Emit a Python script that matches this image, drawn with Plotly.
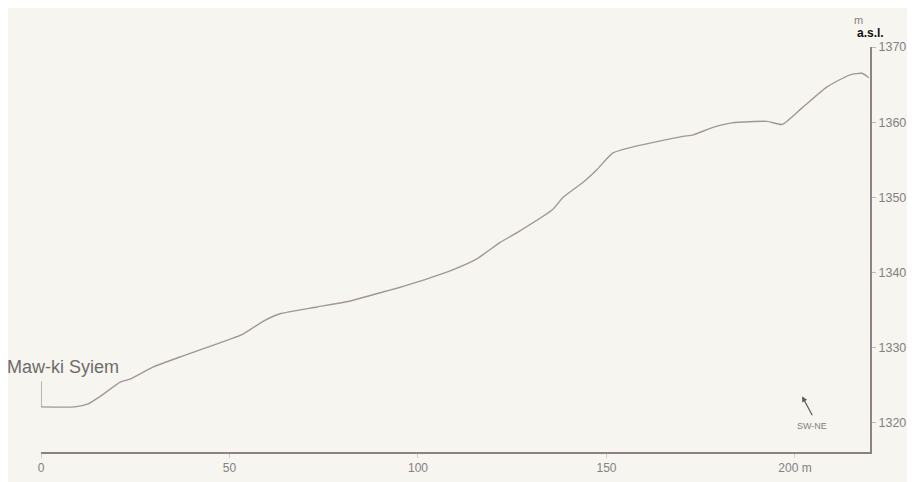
import plotly.graph_objects as go

# distance along profile (m) and elevation (m a.s.l.)
distance = [0, 9, 12.5, 16, 21, 23.6, 29.7, 37.7, 46.7, 53.6, 58.9, 63.4, 73.2, 82, 90.7, 94.4, 99.7,
            108.5, 115.6, 121.8, 126.3, 135.8, 138.5, 143.8, 147.5, 151.7, 157, 163.4, 170.3, 173,
            178.2, 183.3, 192.6, 196.6, 202.1, 208.5, 214.6, 217.8, 219.6]
elevation = [1322.1, 1322.1, 1322.5, 1323.6, 1325.4, 1325.8, 1327.4, 1328.9, 1330.5, 1331.8, 1333.5,
             1334.5, 1335.4, 1336.2, 1337.4, 1337.9, 1338.7, 1340.2, 1341.8, 1344.0, 1345.3, 1348.4,
             1350.0, 1352.0, 1353.7, 1355.9, 1356.7, 1357.4, 1358.1, 1358.3, 1359.3, 1359.9, 1360.1,
             1359.7, 1362.0, 1364.7, 1366.3, 1366.5, 1365.9]

x_ticks = [0, 50, 100, 150, 200]
x_ticktext = ["0", "50", "100", "150", "200 m"]
y_ticks = [1320, 1330, 1340, 1350, 1360, 1370]

start_label = "Maw-ki Syiem"
start_marker = [1322.1, 1325.5]

direction_label = "SW-NE"
arrow_head = [201.9, 1323.5]
arrow_tail = [204.8, 1320.8]
label_pos = [204.6, 1319.6]

bg = "#f6f5ef"
line_col = "#a39699"
axis_col = "#8e8185"
txt_col = "#858082"

fig = go.Figure()
fig.add_trace(go.Scatter(x=distance, y=elevation, mode="lines",
                         line=dict(color=line_col, width=1.4, shape="spline", smoothing=0.5),
                         hoverinfo="skip"))
fig.add_trace(go.Scatter(x=[0, 0], y=start_marker, mode="lines",
                         line=dict(color=line_col, width=1.4), hoverinfo="skip"))

# page body has an 8px margin, so the figure is sized to fill the rest of the window
fig.update_layout(
    width=907, height=474,
    margin=dict(l=33, r=45, t=39, b=30),
    paper_bgcolor=bg, plot_bgcolor=bg,
    showlegend=False,
    font=dict(family="Liberation Sans, Arial, sans-serif", color=txt_col, size=12),
    xaxis=dict(range=[0, 219.9], tickvals=x_ticks, ticktext=x_ticktext, automargin=False,
               showgrid=False, zeroline=False, showline=True, linecolor=axis_col, linewidth=2,
               ticks="outside", ticklen=4, tickcolor="#d3cdcd",
               tickfont=dict(size=12, color=txt_col)),
    yaxis=dict(range=[1316.1, 1370], tickvals=y_ticks, side="right", automargin=False,
               showgrid=False, zeroline=False, showline=True, linecolor=axis_col, linewidth=2,
               ticks="outside", ticklen=4, tickcolor="#bdb5b6",
               tickfont=dict(size=12.5, color=txt_col)),
)

fig.add_annotation(x=0, y=start_marker[1], xref="x", yref="y", text=start_label, showarrow=False,
                   xanchor="left", yanchor="bottom", xshift=-36, yshift=2,
                   font=dict(size=18, color="#716a6c"))
fig.add_annotation(xref="paper", yref="paper", x=1.0, y=1.0, text="m", showarrow=False,
                   xanchor="center", yanchor="bottom", xshift=-12, yshift=19,
                   font=dict(size=11, color=txt_col))
fig.add_annotation(xref="paper", yref="paper", x=1.0, y=1.0, text="<b>a.s.l.</b>", showarrow=False,
                   xanchor="center", yanchor="bottom", xshift=0, yshift=5,
                   font=dict(size=12, color="#111111"))
fig.add_annotation(x=label_pos[0], y=label_pos[1], xref="x", yref="y", text=direction_label,
                   showarrow=False, font=dict(size=9, color=txt_col))
fig.add_annotation(x=arrow_head[0], y=arrow_head[1], ax=arrow_tail[0], ay=arrow_tail[1],
                   xref="x", yref="y", axref="x", ayref="y",
                   text="", showarrow=True, arrowhead=2, arrowsize=0.9, arrowwidth=1.2,
                   arrowcolor="#5f585a")

fig.write_html("out.html")
